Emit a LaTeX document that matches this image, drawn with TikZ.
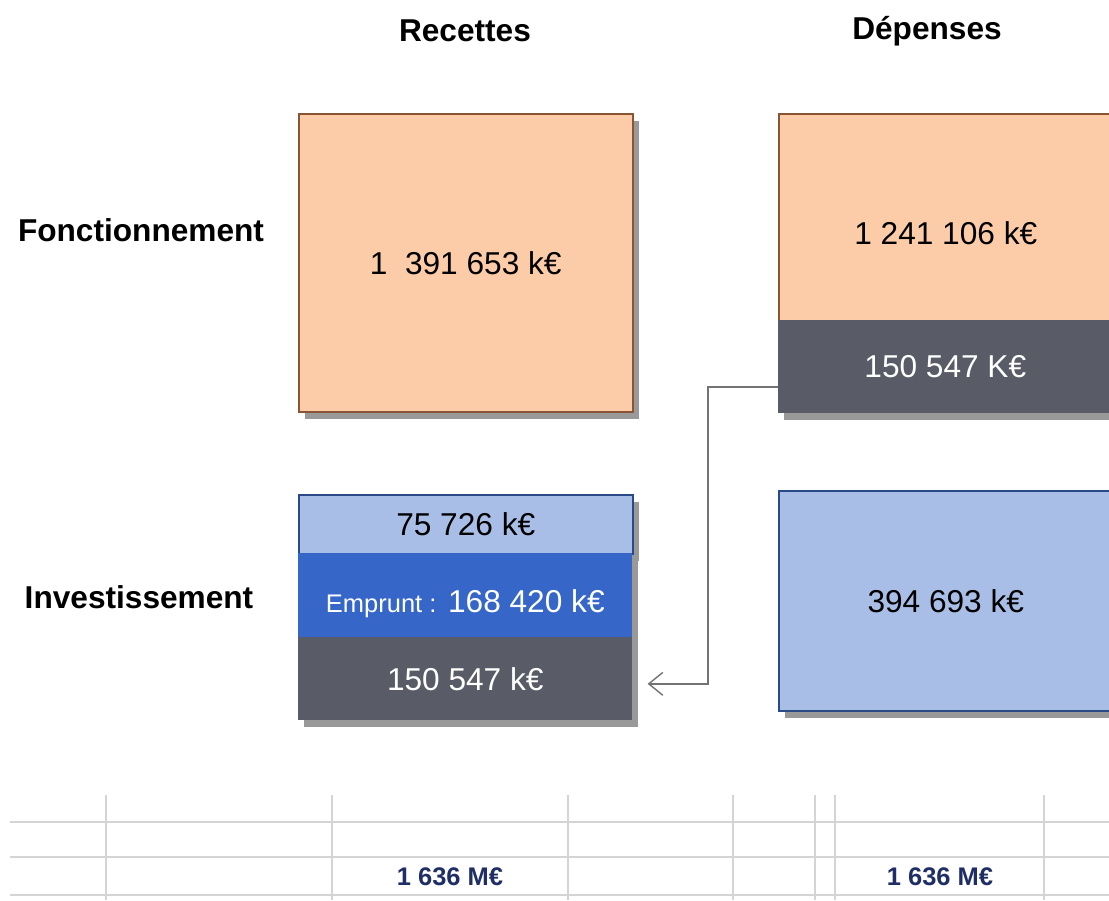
\documentclass[tikz,border=0pt]{standalone}
\usepackage{fontspec}
\setmainfont{Liberation Sans}
\usepackage{tikz}
\usetikzlibrary{positioning,arrows.meta,shadows}

\definecolor{peach}{HTML}{FCCCA9}
\definecolor{peachline}{HTML}{8A5535}
\definecolor{slate}{HTML}{595C66}
\definecolor{paleblue}{HTML}{A9BEE7}
\definecolor{navyline}{HTML}{2A4A85}
\definecolor{loanblue}{HTML}{3566C8}
\definecolor{totalnavy}{HTML}{1F2F66}
\definecolor{gridgray}{HTML}{D4D4D4}

\begin{document}
\begin{tikzpicture}[x=0.02cm,y=-0.02cm,
  every node/.style={font=\fontsize{18}{20}\selectfont},
  box/.style={rectangle, anchor=north west, inner sep=0pt, minimum width=6.68cm,
    drop shadow={shadow xshift=0.12cm, shadow yshift=-0.14cm, fill=black!40, opacity=1}},
  header/.style={font=\fontsize{18}{20}\selectfont\bfseries}]
\useasboundingbox[fill=white] (0,0) rectangle (1109,900);
% column and row headers
\node[header] (rec) at (465,31) {Recettes};
\node[header] (dep) at (927,31) {Dépenses};
\node[header] (fonct) at (141,230) {Fonctionnement};
\node[header] (invest) at (139,597) {Investissement};
% fonctionnement
\node[box, fill=peach, draw=peachline, line width=0.9pt, minimum height=5.96cm] (recfonc) at (298,113) {1\ \ 391 653 k€};
\node[box, fill=peach, draw=peachline, line width=0.9pt, minimum height=4.14cm,
  label={[yshift=-0.32cm]center:1 241 106 k€}] (depfonc) at (778,113) {};
\node[box, fill=slate, text=white, minimum height=1.86cm] (depvir) at (778,320) {150 547 K€};
% investissement
\node[box, fill=paleblue, draw=navyline, line width=0.9pt, minimum height=1.18cm] (recinv) at (298,494) {75 726 k€};
\node[box, fill=loanblue, minimum height=1.68cm,
  label={[yshift=-0.16cm, text=white]center:{\fontsize{14.5}{16}\selectfont Emprunt :} 168 420 k€}] (recemp) at (298,553) {};
\node[box, fill=slate, text=white, minimum height=1.66cm] (recvir) at (298,637) {150 547 k€};
\node[box, fill=paleblue, draw=navyline, line width=0.9pt, minimum height=4.4cm] (depinv) at (778,490) {394 693 k€};
% virement
\draw[black!55, line width=0.8pt, -{Straight Barb[length=8pt,width=13pt]}]
  ([yshift=-0.4cm]depvir.west) -- ++(-70,0) |- ([xshift=0.3cm,yshift=-0.1cm]recvir.east);
% tableau
\foreach \y in {822,857,895}
  \draw[gridgray, line width=1.4pt] (10,\y) -- (1109,\y);
\foreach \x in {106,332,568,733,815,835,1044}
  \draw[gridgray, line width=0.6pt] (\x,795) -- (\x,900);
\node[font=\fontsize{14.5}{16}\selectfont\bfseries, text=totalnavy] (totrec) at (450,877) {1 636 M€};
\node[font=\fontsize{14.5}{16}\selectfont\bfseries, text=totalnavy] (totdep) at (940,877) {1 636 M€};
\end{tikzpicture}
\end{document}
